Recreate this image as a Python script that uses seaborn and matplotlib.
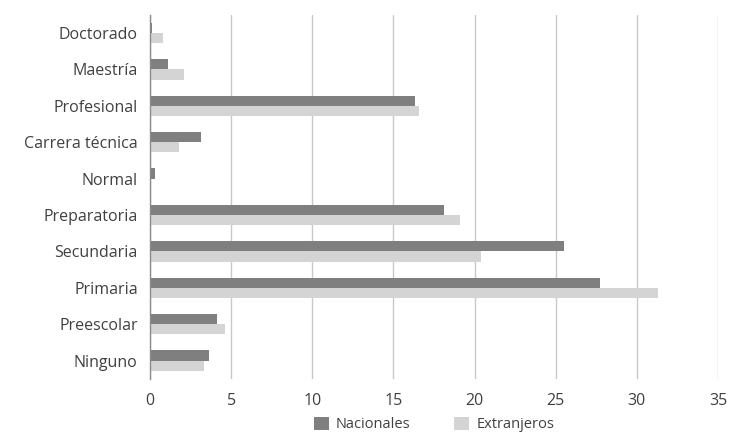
import pandas as pd
import seaborn as sns
import matplotlib.pyplot as plt

sns.set_theme(style="white")
plt.rcParams['font.family'] = ['Open Sans', 'DejaVu Sans']

# Data (%)
niveles = ['Doctorado', 'Maestría', 'Profesional', 'Carrera técnica', 'Normal',
           'Preparatoria', 'Secundaria', 'Primaria', 'Preescolar', 'Ninguno']
nacionales = [0.12, 1.07, 16.3, 3.15, 0.3, 18.1, 25.5, 27.7, 4.1, 3.65]
extranjeros = [0.8, 2.1, 16.6, 1.77, 0.08, 19.1, 20.4, 31.3, 4.6, 3.33]
grupos = ['Nacionales', 'Extranjeros']
colores = ['#7f7f7f', '#d4d4d4']

df = pd.DataFrame({'nivel': niveles * 2,
                   'valor': nacionales + extranjeros,
                   'grupo': [grupos[0]] * len(niveles) + [grupos[1]] * len(niveles)})

fig, ax = plt.subplots(figsize=(7.36, 4.38), dpi=100)
fig.subplots_adjust(left=0.204, right=0.9755, top=0.966, bottom=0.135)

sns.barplot(ax=ax, data=df, x='valor', y='nivel', hue='grupo', order=niveles,
            hue_order=grupos, palette=colores, width=0.56, saturation=1,
            edgecolor='none', orient='h')

ax.set_xlim(0, 35)
ax.set_xticks(range(0, 36, 5))
ax.set_ylim(len(niveles) - 0.5, -0.5)
ax.grid(axis='x', color='#c9c9c9', linewidth=1)
ax.set_axisbelow(True)
for s in ['top', 'right', 'bottom']:
    ax.spines[s].set_visible(False)
ax.spines['left'].set_color('#8c8c8c')
ax.spines['left'].set_linewidth(1)
ax.tick_params(axis='both', length=0, colors='#404040', labelsize=11.5)
ax.tick_params(axis='x', pad=10)
ax.tick_params(axis='y', pad=9)
ax.set_xlabel('')
ax.set_ylabel('')

ax.legend(loc='center', bbox_to_anchor=(0.5, -0.126), ncol=2, frameon=False,
          fontsize=10.5, handlelength=1.0, handleheight=1.0, columnspacing=3,
          labelcolor='#404040', handletextpad=0.5, borderpad=0)

plt.savefig('out.png', dpi=100)
